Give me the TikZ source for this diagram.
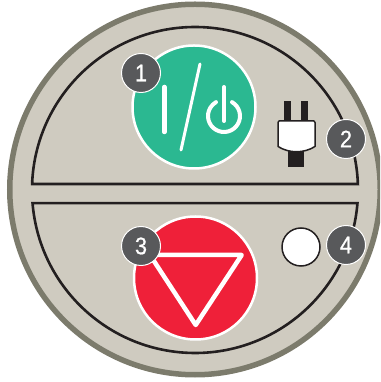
\documentclass[tikz,border=0pt]{standalone}
\usepackage{fontspec}
\setmainfont{Liberation Sans}
\newfontfamily\badgefont[FakeStretch=0.9,FakeBold=0.8]{Liberation Sans}
\usetikzlibrary{positioning}
\definecolor{panelgrey}{RGB}{207, 203, 192}
\definecolor{rimgrey}{RGB}{124, 123, 108}
\definecolor{lineblack}{RGB}{35, 31, 32}
\definecolor{startgreen}{RGB}{43, 184, 145}
\definecolor{stopred}{RGB}{239, 32, 57}
\definecolor{badgegrey}{RGB}{88, 89, 91}

\begin{document}
\begin{tikzpicture}[
  x=1pt, y=1pt,
  groove/.style={line width=2.6pt, draw=lineblack, line join=miter},
  bigbutton/.style={circle, draw=white, line width=2.5pt, minimum size=123pt, inner sep=0pt},
  badge/.style={circle, draw=white, line width=1pt, fill=badgegrey, text=white, minimum size=39pt, inner sep=0pt, font=\fontsize{24}{24}\badgefont},
  mark line/.style={draw=white, line cap=round},
  plugpart/.style={fill=lineblack, draw=none}
]
    \useasboundingbox (0,0) rectangle (380,382);
    \clip (0,0) rectangle (380,382);

    % panel
    \node (panel) at (195,192.5) [circle, draw=rimgrey, fill=panelgrey, line width=5.5pt, minimum size=370.5pt, inner sep=0pt] {};
    \draw[groove] (195,192) ++(2.1:163) arc (2.1:177.9:163) -- cycle;
    \draw[groove] (195,192) ++(-4.6:163) arc (-4.6:-175.4:163) -- cycle;

    % start button
    \node (start) at (194,275) [bigbutton, fill=startgreen] {};
    \draw[mark line, line width=4.5pt] (164.3,295) -- (164.3,250);
    \draw[mark line, line width=3pt] (200,318) -- (181,232);
    \draw[mark line, line width=4pt] (224,266) ++(60:16) arc (60:-240:16);
    \draw[mark line, line width=4pt] (224,295) -- (224,261);

    % stop button
    \node (stop) at (195.5,104) [bigbutton, fill=stopred] {};
    \draw[draw=white, line width=4.5pt, line join=round] (150,127) -- (241.7,127) -- (195.7,57) -- cycle;

    % plug
    \fill[plugpart] (284,261) rectangle (291.3,281);
    \fill[plugpart] (300.7,261) rectangle (307.7,281);
    \fill[plugpart] (287.7,215) rectangle (304,236);
    \draw[fill=white, draw=lineblack, line width=1.5pt, line join=round] (279,261) -- (314,261) -- (315,259.5) -- (315,235.5) .. controls (304,228.5) and (289,228.5) .. (278,235.5) -- (278,259.5) -- cycle;

    % lamp
    \node (lamp) at (301,135) [circle, draw=lineblack, fill=white, line width=1.5pt, minimum size=38pt, inner sep=0pt] {};

    % numbers
    \node[badge] (one) at (141,309) {1};
    \node[badge] (two) at (346,243) {2};
    \node[badge] (three) at (141,136) {3};
    \node[badge] (four) at (346,137) {4};
\end{tikzpicture}
\end{document}
